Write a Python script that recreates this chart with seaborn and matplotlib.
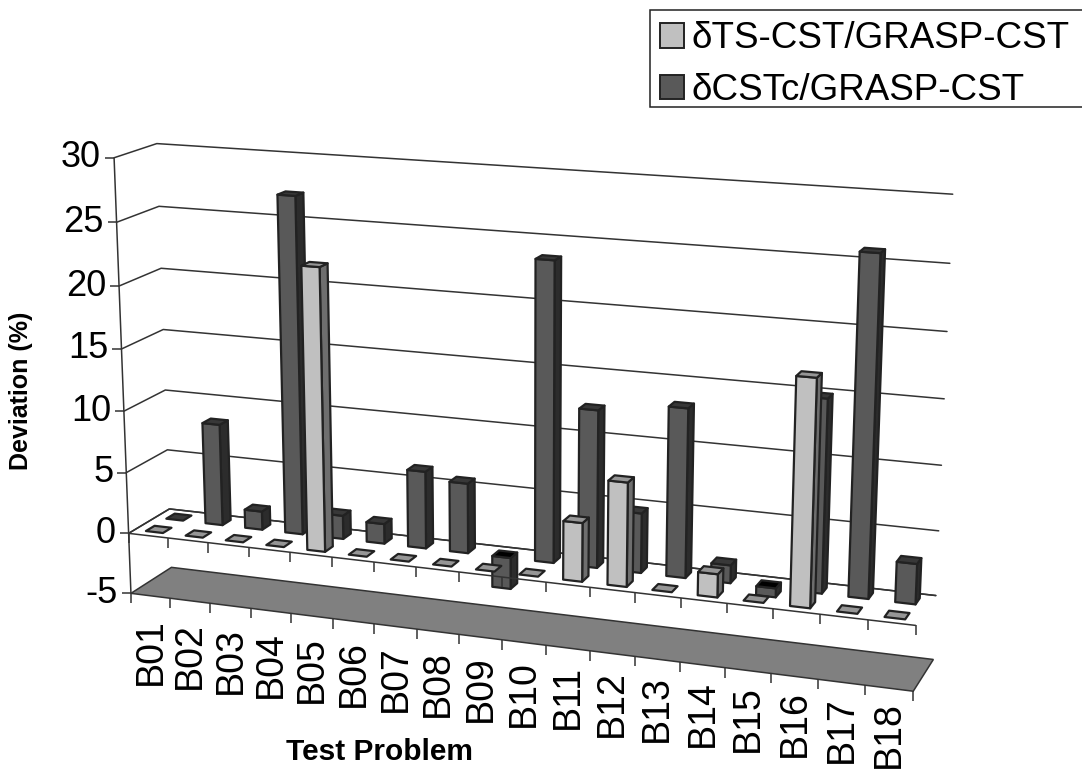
import numpy as np
import pandas as pd
import matplotlib
matplotlib.use('Agg')
import matplotlib.pyplot as plt
from matplotlib.patches import Patch, Rectangle
import seaborn as sns

problems = ['B01', 'B02', 'B03', 'B04', 'B05', 'B06', 'B07', 'B08', 'B09',
            'B10', 'B11', 'B12', 'B13', 'B14', 'B15', 'B16', 'B17', 'B18']
ts_cst = [0, 0, 0, 0, 22.5, 0, 0, 0, 0, 0, 4.6, 8.1, 0, 1.8, 0, 17.3, 0, 0]
cst_c = [0, 8.3, 1.5, 27.1, 1.9, 1.6, 6.2, 5.6, -2.5, 23.6, 12.4, 4.7, 13.2,
         1.4, -0.7, 14.9, 25.9, 3.1]
y_ticks = [-5, 0, 5, 10, 15, 20, 25, 30]
series_names = ['\u03b4TS-CST/GRASP-CST', '\u03b4CSTc/GRASP-CST']

# camera of the fake 3d box: (category, depth, value) -> pixel on the picture
box_u = [0, 0, 0, 0, 0, 0, 18, 18, 18, 18, 18, 18, 5, 14, 10]
box_v = [0, 0, 0, 1, 1, 1, 1, 1, 1, 0, 0, 1, 0, 0, 0]
box_w = [30, 0, -5, 30, 0, -5, 30, 0, -5, 0, -5, 15, -5, -5, -5]
box_x = [114, 129, 130.7, 156.7, 170, 171, 952.7, 936, 933.3, 916, 913.3, 944.3, 332.7, 725.3, 545.7]
box_y = [158, 533, 593.3, 143.3, 509, 567.7, 194.3, 595.3, 659.3, 625, 691.7, 399, 618.7, 668, 645]


def fit_camera():
    rows, rhs = [], []
    for u, v, w, x, y in zip(box_u, box_v, box_w, box_x, box_y):
        p = [u / 18, v, w / 30, 1]
        rows.append(p + [0, 0, 0, 0] + [-x * c for c in p[:3]])
        rows.append([0, 0, 0, 0] + p + [-y * c for c in p[:3]])
        rhs += [x, y]
    return np.append(np.linalg.lstsq(np.array(rows), np.array(rhs), rcond=None)[0], 1).reshape(3, 4)


cam = fit_camera()


def proj(u, v, w):
    a = cam @ np.array([u / 18, v, w / 30, 1])
    return a[0] / a[2], a[1] / a[2]


sns.set_theme(style='white')
plt.rcParams['font.family'] = ['Liberation Sans', 'DejaVu Sans']
light, dark = sns.color_palette(['#C0C0C0', '#595959'])
line_col = '#333333'

fig = plt.figure(figsize=(10.82, 7.69), dpi=100)
ax = fig.add_axes([0, 0, 1, 1])

# grid on the side and back wall
rows = []
for w in y_ticks[1:]:
    for i, (u, v) in enumerate([(0, 0), (0, 1), (18, 1)]):
        x, y = proj(u, v, w)
        rows.append({'x': x, 'y': y, 'level': w, 'order': i})
grid = pd.DataFrame(rows)
sns.lineplot(data=grid, x='x', y='y', units='level', estimator=None, sort=False,
             color=line_col, lw=1.1, ax=ax, legend=False)


def draw_line(p, q, z=1):
    ax.plot([p[0], q[0]], [p[1], q[1]], color=line_col, lw=1.1, zorder=z, solid_capstyle='butt')


# floor plate
plate = [proj(0, 0, -5), proj(0, 1, -5), proj(18, 1, -5), proj(18, 0, -5)]
ax.fill(*zip(*plate), facecolor='#808080', edgecolor=line_col, lw=1.1, zorder=1)

# left axis
draw_line(proj(0, 0, 30), proj(0, 0, -5))
for w in y_ticks:
    x, y = proj(0, 0, w)
    draw_line((x - 9, y), (x, y))
    ax.text(x - 13, y, str(w), ha='right', va='center', fontsize=26, color='black')


def face(pts, col, z):
    ax.fill(*zip(*pts), facecolor=col, edgecolor='#222222', lw=1.6, joinstyle='round', zorder=z)


def draw_bar(i, val, v0, face_col, side_col, top_col, z):
    u0, u1 = i + 0.285, i + 0.715
    v1 = v0 + 0.21
    hi, lo = max(val, 0), min(val, 0)
    top = top_col if val >= 0 else 'black'
    if val != 0:
        face([proj(u1, v0, lo), proj(u1, v1, lo), proj(u1, v1, hi), proj(u1, v0, hi)], side_col, z)
        face([proj(u0, v0, lo), proj(u1, v0, lo), proj(u1, v0, hi), proj(u0, v0, hi)], face_col, z)
    face([proj(u0, v0, hi), proj(u1, v0, hi), proj(u1, v1, hi), proj(u0, v1, hi)], top, z)


for i, val in enumerate(cst_c):
    draw_bar(i, val, 0.645, dark, '#2C2C2C', '#383838', 3)

# front axis line, goes over the hanging bars
draw_line(proj(0, 0, 0), proj(18, 0, 0), 4)
draw_line(proj(0, 0, 0), proj(0, 1, 0), 2)
draw_line(proj(0, 1, 0), proj(18, 1, 0), 2)
for i in range(19):
    for w in (0, -5):
        x, y = proj(i, 0, w)
        draw_line((x, y), (x, y + 10), 4)

for i, val in enumerate(ts_cst):
    draw_bar(i, val, 0.145, light, '#6E6E6E', '#969696', 5)

for i, name in enumerate(problems):
    x, y = proj(i + 0.5, 0, -5)
    ax.text(x, y + 22 - 9 * i / 17, name, rotation=90, ha='center', va='top', fontsize=27, color='black')

ax.text(21, 391, 'Deviation (%)', rotation=90, ha='center', va='center', fontsize=18,
        fontweight='bold', color='black')
ax.text(379, 752, 'Test Problem', ha='center', va='center', fontsize=21.5,
        fontweight='bold', color='black')

# legend box runs off the right side of the picture
ax.add_patch(Rectangle((649.5, 9.5), 440, 97.5, facecolor='white', edgecolor='#222222', lw=1.1, zorder=9))
handles = [Patch(facecolor=light, edgecolor='#222222', lw=1.4),
           Patch(facecolor=dark, edgecolor='#222222', lw=1.4)]
leg = ax.legend(handles, series_names, loc='upper left', bbox_to_anchor=(649 / 1082, 1 - 10 / 769),
                bbox_transform=fig.transFigure, fontsize=26.5, frameon=False,
                labelcolor='black', handlelength=0.66, handleheight=0.66, handletextpad=0.2,
                labelspacing=0.46, borderpad=0.3, borderaxespad=0)
leg.set_zorder(10)

ax.set_xlim(0, 1082)
ax.set_ylim(769, 0)
ax.set_xlabel('')
ax.set_ylabel('')
ax.axis('off')

fig.savefig('out.png', dpi=100)
